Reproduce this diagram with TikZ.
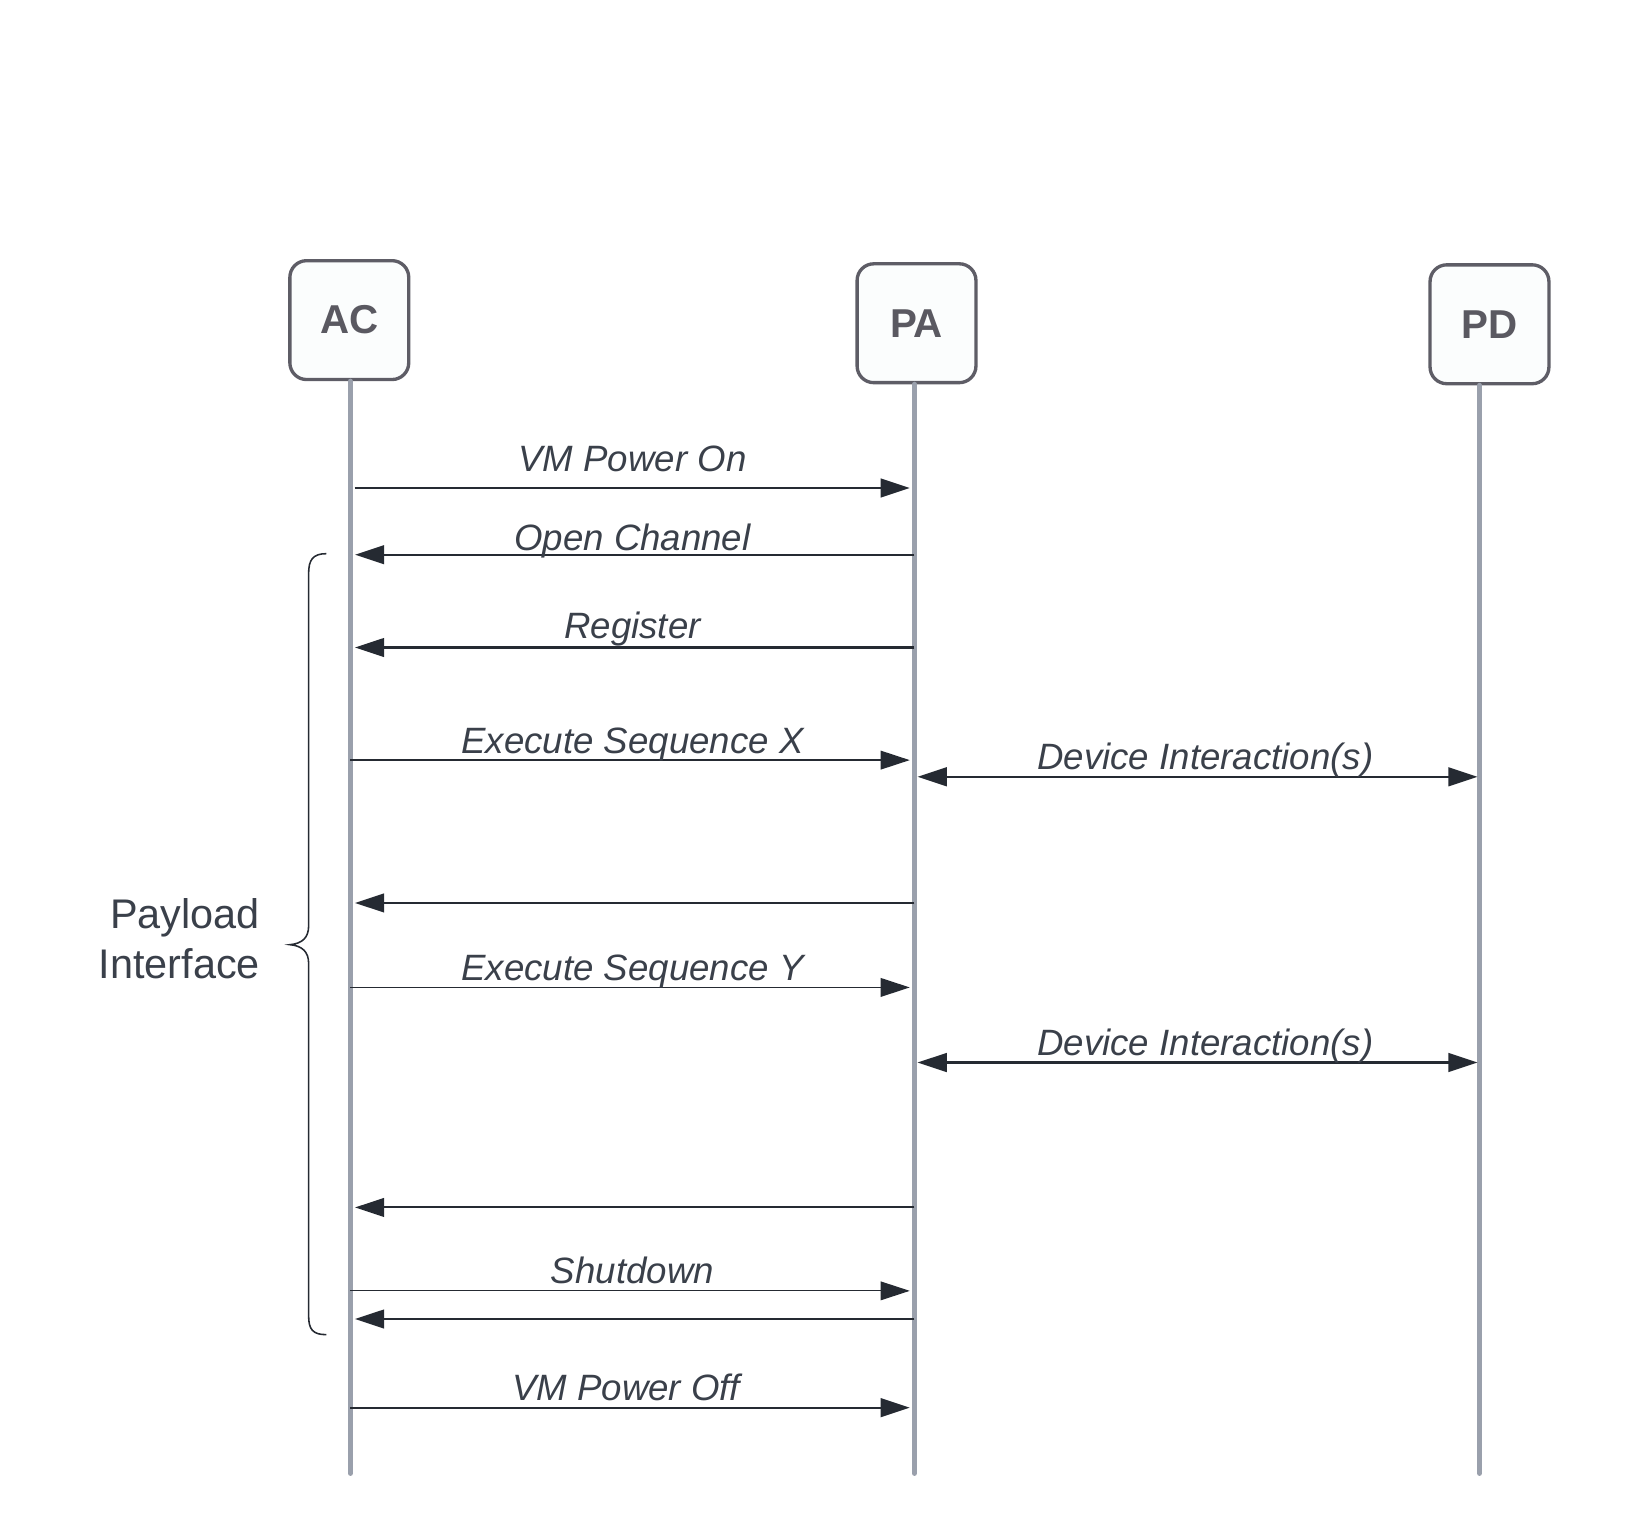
\documentclass[tikz,border=0pt]{standalone}
\usepackage{fontspec}
\setmainfont{Liberation Sans}
\usetikzlibrary{arrows.meta}
\definecolor{boxline}{HTML}{5E5D66}
\definecolor{boxfill}{HTML}{FBFDFD}
\definecolor{boxtext}{HTML}{5A5961}
\definecolor{lifeline}{HTML}{9AA0AC}
\definecolor{msgline}{HTML}{252A32}
\definecolor{lbltext}{HTML}{3A404A}

\begin{document}
\begin{tikzpicture}[>={Triangle[length=2.8mm,width=1.8mm]},
  actor/.style={draw=boxline, line width=0.32mm, fill=boxfill, rounded corners=1.6mm,
    minimum width=1.14cm, minimum height=1.14cm, text=boxtext,
    font=\bfseries\fontsize{11}{13}\selectfont},
  life/.style={draw=lifeline, line width=0.5mm, line cap=round},
  msg/.style={draw=msgline, line width=0.2mm, ->, shorten >=0.45mm},
  thinmsg/.style={msg, line width=0.13mm},
  lbl/.style={anchor=base, text=lbltext, inner sep=0pt, yshift=0.07cm,
    font=\itshape\fontsize{10}{12}\selectfont}]

\useasboundingbox (0,0) rectangle (15.69,-14.61);

\node[actor] (ac) at (3.35,-3.07) {AC};
\node[actor] (pa) at (8.79,-3.10) {PA};
\node[actor] (pd) at (14.285,-3.11) {PD};

\coordinate (acEnd) at (3.36,-14.13);
\coordinate (paEnd) at (8.77,-14.13);
\coordinate (pdEnd) at (14.19,-14.13);

\draw[life] (ac.south -| acEnd) -- (acEnd);
\draw[life] (pa.south -| paEnd) -- (paEnd);
\draw[life] (pd.south -| pdEnd) -- (pdEnd);

% message rows
\foreach \n/\y in {1/4.68, 2/5.32, 3/6.21, 4/7.29, 5/7.45, 6/8.66,
                   7/9.47, 8/10.19, 9/11.58, 10/12.38, 11/12.65, 12/13.50}
  \coordinate (r\n) at (0,-\y);

\draw[msg, shorten <=0.4mm] (acEnd |- r1) -- node[lbl, yshift=0.09cm]{VM Power On} (paEnd |- r1);
\draw[msg] (paEnd |- r2) -- node[lbl, yshift=-0.03cm]{Open Channel} (acEnd |- r2);
\draw[msg] (paEnd |- r3) -- node[lbl, yshift=0.02cm]{Register} (acEnd |- r3);
\draw[thinmsg] (acEnd |- r4) -- node[lbl, yshift=-0.01cm]{Execute Sequence X} (paEnd |- r4);
\draw[msg, <->, shorten <=0.3mm, shorten >=0.2mm] (paEnd |- r5) -- node[lbl, xshift=0.08cm]{Device Interaction(s)} (pdEnd |- r5);
\draw[msg] (paEnd |- r6) -- (acEnd |- r6);
\draw[thinmsg] (acEnd |- r7) -- node[lbl]{Execute Sequence Y} (paEnd |- r7);
\draw[msg, <->, shorten <=0.3mm, shorten >=0.2mm] (paEnd |- r8) -- node[lbl, xshift=0.08cm]{Device Interaction(s)} (pdEnd |- r8);
\draw[msg] (paEnd |- r9) -- (acEnd |- r9);
\draw[msg, line width=0.1mm] (acEnd |- r10) -- node[lbl]{Shutdown} (paEnd |- r10);
\draw[msg] (paEnd |- r11) -- (acEnd |- r11);
\draw[msg] (acEnd |- r12) -- node[lbl, xshift=-0.06cm]{VM Power Off} (paEnd |- r12);

% brace
\draw[msgline, line width=0.15mm] (3.13,-5.31) .. controls (3.0,-5.31) and (2.96,-5.37) .. (2.96,-5.5)
  -- (2.96,-8.88) .. controls (2.96,-8.99) and (2.9,-9.05) .. (2.78,-9.06)
  .. controls (2.9,-9.07) and (2.96,-9.13) .. (2.96,-9.24)
  -- (2.96,-12.62) .. controls (2.96,-12.75) and (3.0,-12.8) .. (3.13,-12.8);

\node[anchor=east, align=right, text=lbltext, inner sep=0pt,
  font=\fontsize{11.3}{13.6}\selectfont] (payload) at (2.50,-9.0) {Payload\\Interface};
\end{tikzpicture}
\end{document}
